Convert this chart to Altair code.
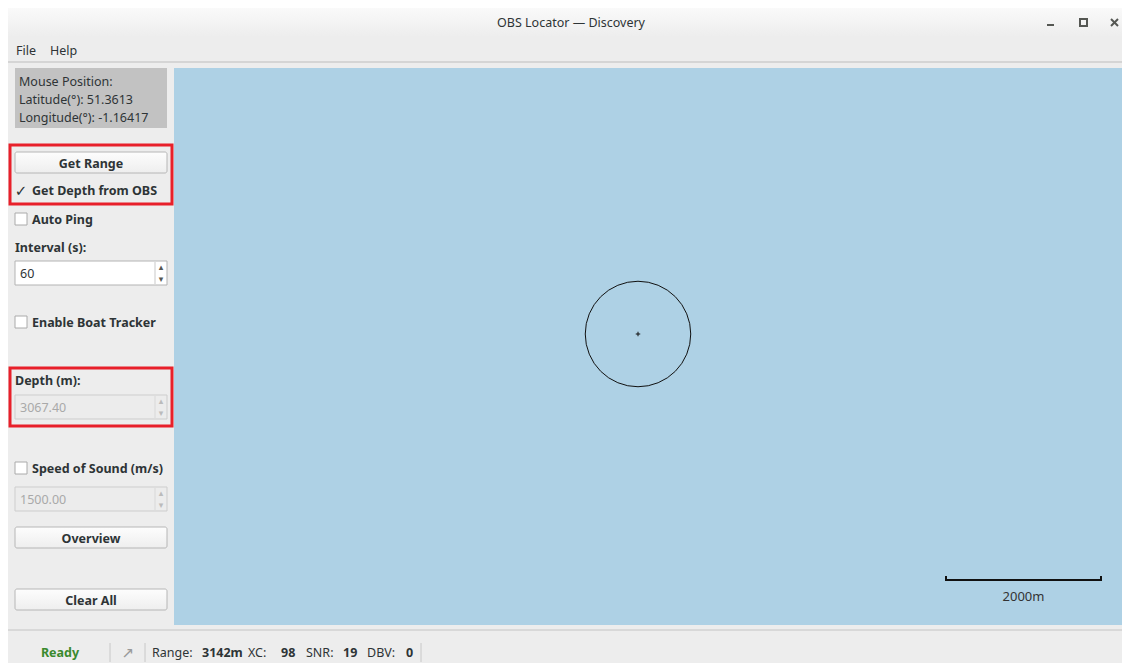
import math
import altair as alt
import pandas as pd

# ------------------------------------------------------------------
# Values
# ------------------------------------------------------------------
window_title = "OBS Locator — Discovery"
menu_items = ["File", "Help"]
mouse_lat = 51.3613
mouse_lon = -1.16417
interval_s = 60
depth_m = 3067.40
sound_speed = 1500.00
range_m = 3142
xc_val = 98
snr_val = 19
dbv_val = 0
scale_bar_m = 2000
status_text = "Ready"
button_labels = ["Get Range", "Overview", "Clear All"]
check_labels = ["Get Depth from OBS", "Auto Ping", "Enable Boat Tracker", "Speed of Sound (m/s)"]
check_state = [True, False, False, False]

# horizontal range of the OBS (slant range and depth)
horiz_range_m = math.sqrt(range_m ** 2 - depth_m ** 2)

# ------------------------------------------------------------------
# Layout (screen pixels of the 1130x671 window)
# ------------------------------------------------------------------
FONT = "Noto Sans"
SYM = "DejaVu Sans"
FS = 12.5
TXT = "#2e3436"
X_DOM = [8, 1122]
Y_DOM = [8, 663]
W, H = X_DOM[1] - X_DOM[0], Y_DOM[1] - Y_DOM[0]
xs = alt.Scale(domain=X_DOM, nice=False, zero=False)
ys = alt.Scale(domain=Y_DOM, nice=False, zero=False, reverse=True)

MAP = dict(x=174, x2=1130, y=68, y2=625, fill="#aed1e5")
OBS_PX = (638, 334)
BAR_PX = (946, 1101, 580)           # scale bar ends and its line height
px_per_m = (BAR_PX[1] - BAR_PX[0]) / scale_bar_m
STATUS_Y = 653

PANEL_L, PANEL_R = 15, 167
button_y = [(152, 173), (527, 548), (589, 610)]
check_y = [190, 219, 322, 468]
spin_boxes = [  # (top, bottom, text, enabled)
    (261, 285, f"{interval_s}", True),
    (395, 419, f"{depth_m:.2f}", False),
    (487, 511, f"{sound_speed:.2f}", False),
]


def enc_xy(ch, extra=None):
    e = dict(
        x=alt.X("x:Q", scale=xs, axis=None),
        y=alt.Y("y:Q", scale=ys, axis=None),
    )
    if extra:
        e.update(extra)
    return ch.encode(**e)


def rects(rows, **mark):
    df = pd.DataFrame(rows, columns=["x", "x2", "y", "y2", "fill", "stroke", "sw"])
    ch = alt.Chart(df).mark_rect(clip=True, **mark)
    return enc_xy(ch, dict(
        x2="x2:Q", y2="y2:Q",
        fill=alt.Fill("fill:N", scale=None),
        stroke=alt.Stroke("stroke:N", scale=None),
        strokeWidth=alt.StrokeWidth("sw:Q", scale=None),
    ))


def grad_rects(rows, stops, stroke, radius=0):
    df = pd.DataFrame(rows, columns=["x", "x2", "y", "y2"])
    ch = alt.Chart(df).mark_rect(
        clip=True,
        cornerRadius=radius,
        stroke=stroke,
        strokeWidth=1,
        fill=alt.LinearGradient(
            gradient="linear",
            stops=[alt.GradientStop(offset=o, color=c) for o, c in stops],
            x1=0, x2=0, y1=0, y2=1,
        ),
    )
    return enc_xy(ch, dict(x2="x2:Q", y2="y2:Q"))


def rules(rows):
    df = pd.DataFrame(rows, columns=["x", "x2", "y", "y2", "c", "sw"])
    ch = alt.Chart(df).mark_rule(clip=True)
    return enc_xy(ch, dict(
        x2="x2:Q", y2="y2:Q",
        color=alt.Color("c:N", scale=None),
        strokeWidth=alt.StrokeWidth("sw:Q", scale=None),
    ))


def texts(rows, weight="normal", align="left", size=FS, font=FONT, dy=1):
    df = pd.DataFrame(rows, columns=["x", "y", "t", "c"])
    ch = alt.Chart(df).mark_text(
        clip=True, align=align, baseline="middle", dy=dy,
        fontWeight=weight, fontSize=size, font=font,
    )
    return enc_xy(ch, dict(text="t:N", color=alt.Color("c:N", scale=None)))


layers = []

# window background, title bar, borders
layers.append(rects([
    (7, 1130, 5, 671, "#ededed", "#ededed", 0),
    (15, 167, 68, 128, "#c2c2c2", "#c2c2c2", 0),
    (MAP["x"], MAP["x2"], MAP["y"], MAP["y2"], MAP["fill"], MAP["fill"], 0),
]))
layers.append(grad_rects([(7, 1130, 5, 37)],
                         [(0, "#fbfbfb"), (1, "#ededed")], "#ededed"))
layers.append(rules([
    (7, 1130, 5, 5, "#a9a9a9", 1),
    (7, 7, 5, 671, "#a9a9a9", 1),
    (7, 1130, 62, 62, "#bdbdbd", 1),
    (7, 1130, 630, 630, "#c4c4c4", 1),
    # window controls
    (1047, 1054, 25, 25, "#555753", 2),
    (1111, 1118, 19, 26, "#555753", 2),
    (1111, 1118, 26, 19, "#555753", 2),
    # status bar separators
    (110, 110, STATUS_Y - 10, STATUS_Y + 9, "#c8c8c8", 1),
    (145, 145, STATUS_Y - 10, STATUS_Y + 9, "#c8c8c8", 1),
    (421, 421, STATUS_Y - 10, STATUS_Y + 9, "#c8c8c8", 1),
]))
layers.append(rects([(1080, 1087, 19, 26, "transparent", "#555753", 2)]))

# buttons
layers.append(grad_rects([(PANEL_L, PANEL_R, a, b) for a, b in button_y],
                         [(0, "#fdfdfd"), (1, "#eeeeee")], "#b6b6b6", radius=2))

# check boxes (unchecked ones are drawn as boxes)
layers.append(rects([
    (15, 27, cy - 6, cy + 6, "#ffffff", "#aaaaaa", 1)
    for cy, st in zip(check_y, check_state) if not st
]))

# spin boxes
layers.append(rects([
    (PANEL_L, PANEL_R, a, b, "#ffffff" if en else "#ececec",
     "#b3b3b3" if en else "#cdcdcd", 1)
    for a, b, _, en in spin_boxes
]))
layers.append(rules([
    (155, 155, a + 1, b - 1, "#c9c9c9" if en else "#d8d8d8", 1)
    for a, b, _, en in spin_boxes
]))

# red highlight boxes
layers.append(rects([
    (10, 172, 145, 204, "transparent", "#e8202a", 3),
    (10, 172, 368, 426, "transparent", "#e8202a", 3),
]))

# ---- map content ----
r_px = horiz_range_m * px_per_m
circle_df = pd.DataFrame({"x": [OBS_PX[0]], "y": [OBS_PX[1]],
                          "s": [(2 * r_px) ** 2]})
layers.append(enc_xy(
    alt.Chart(circle_df).mark_point(shape="circle", filled=False,
                                    color="#111111", strokeWidth=1, opacity=1),
    dict(size=alt.Size("s:Q", scale=None)),
))
layers.append(enc_xy(
    alt.Chart(circle_df).mark_point(shape="M-1,0H1M0,-1V1", size=20,
                                    color="#111111", strokeWidth=1, opacity=1),
))
layers.append(rules([
    (BAR_PX[0], BAR_PX[1], BAR_PX[2], BAR_PX[2], "#111111", 2),
    (BAR_PX[0], BAR_PX[0], BAR_PX[2] - 4, BAR_PX[2] + 1, "#111111", 2),
    (BAR_PX[1], BAR_PX[1], BAR_PX[2] - 4, BAR_PX[2] + 1, "#111111", 2),
]))
layers.append(texts([((BAR_PX[0] + BAR_PX[1]) / 2, 596, f"{scale_bar_m}m", "#333333")],
                    align="center", size=13))

# ---- texts ----
layers.append(texts([(571, 22, window_title, TXT)], align="center"))
layers.append(texts([
    (16, 50, menu_items[0], TXT),
    (50, 50, menu_items[1], TXT),
    (19, 81, "Mouse Position:", TXT),
    (19, 99, f"Latitude(°): {mouse_lat}", TXT),
    (19, 117, f"Longitude(°): {mouse_lon}", TXT),
] + [
    (20, (a + b) / 2, t, TXT if en else "#a9a9a9") for a, b, t, en in spin_boxes
]))
layers.append(texts([
    (32, cy, lab, TXT) for cy, lab in zip(check_y, check_labels)
] + [
    (15, 247, "Interval (s):", TXT),
    (15, 380, "Depth (m):", TXT),
], weight="bold"))
layers.append(texts([
    ((PANEL_L + PANEL_R) / 2, (a + b) / 2, lab, TXT)
    for (a, b), lab in zip(button_y, button_labels)
], weight="bold", align="center"))

# status bar
layers.append(texts([
    (152, STATUS_Y, "Range:", TXT),
    (248, STATUS_Y, "XC:", TXT),
    (306, STATUS_Y, "SNR:", TXT),
    (367, STATUS_Y, "DBV:", TXT),
], dy=0))
layers.append(texts([
    (202, STATUS_Y, f"{range_m}m", TXT),
    (281, STATUS_Y, f"{xc_val}", TXT),
    (343, STATUS_Y, f"{snr_val}", TXT),
    (406, STATUS_Y, f"{dbv_val}", TXT),
], weight="bold", dy=0))
layers.append(texts([(60, STATUS_Y, status_text, "#3a8a2e")],
                    weight="bold", align="center", dy=0))
layers.append(texts([(128, STATUS_Y, "↗", "#9a9a9a")],
                    align="center", size=15, font=SYM, dy=0))

layers.append(texts([
    (21, cy, "✓", TXT) for cy, st in zip(check_y, check_state) if st
], weight="bold", align="center", size=15, font=SYM))
layers.append(texts([
    (161, a + 6, "▴", "#555753" if en else "#bbbbbb") for a, b, _, en in spin_boxes
] + [
    (161, b - 6, "▾", "#555753" if en else "#bbbbbb") for a, b, _, en in spin_boxes
], align="center", size=9, font=SYM, dy=0))

chart = alt.layer(*layers).properties(
    width=W, height=H, padding=0, autosize="none"
).configure_view(stroke=None)

chart.save("out.html", embed_options={"renderer": "svg", "actions": False})
